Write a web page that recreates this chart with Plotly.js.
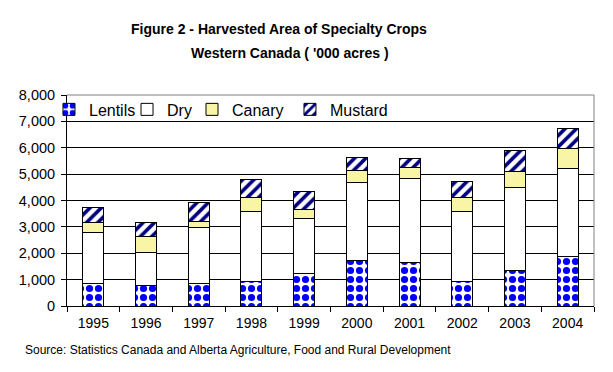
<!DOCTYPE html>
<html>
<head>
<meta charset="utf-8">
<script src="https://cdn.plot.ly/plotly-3.0.1.min.js"></script>
<style>html,body{margin:0;padding:0;background:#fff;}#chart{width:613px;height:372px;}</style>
</head>
<body>
<div id="chart"></div>
<script>
const years = ['1995','1996','1997','1998','1999','2000','2001','2002','2003','2004'];
const lentils = [850, 760, 850, 930, 1250, 1710, 1660, 940, 1330, 1860];
const dry     = [1930, 1270, 2120, 2670, 2050, 2990, 3170, 2630, 3160, 3340];
const canary  = [380, 600, 230, 500, 360, 420, 420, 550, 610, 780];
const mustard = [580, 540, 730, 710, 670, 520, 350, 590, 790, 760];
const titleLine1 = 'Figure 2 - Harvested Area of Specialty Crops';
const titleLine2 = "Western Canada ( '000 acres )";
const sourceText = 'Source: Statistics Canada and Alberta Agriculture, Food and Rural Development';

const FONT = 'Liberation Sans, Arial, sans-serif';
const outline = {color: '#000000', width: 1};

const traces = [
  {type: 'bar', name: 'Lentils', x: years, y: lentils, legend: 'legend',
   marker: {color: '#ffffff', line: outline,
     pattern: {shape: '.', fgcolor: '#0000ff', bgcolor: '#ffffff', size: 9, solidity: 0.5}}},
  {type: 'bar', name: 'Dry', x: years, y: dry, legend: 'legend2',
   marker: {color: '#ffffff', line: outline}},
  {type: 'bar', name: 'Canary', x: years, y: canary, legend: 'legend3',
   marker: {color: '#f9f5a6', line: outline}},
  {type: 'bar', name: 'Mustard', x: years, y: mustard, legend: 'legend4',
   marker: {color: '#ffffff', line: outline,
     pattern: {shape: '/', fgcolor: '#000080', bgcolor: '#ffffff', size: 8, solidity: 0.45}}}
];

function leg(x) {
  return {x: x, xanchor: 'left', y: 1.012, yanchor: 'top', orientation: 'h',
    bgcolor: 'rgba(0,0,0,0)', borderwidth: 0, font: {family: FONT, size: 16, color: '#000'}};
}

const layout = {
  width: 613, height: 372,
  margin: {l: 67, r: 19, t: 95, b: 66},
  paper_bgcolor: '#ffffff', plot_bgcolor: '#ffffff',
  barmode: 'stack', bargap: 0.6,
  font: {family: FONT, size: 14, color: '#000'},
  showlegend: true,
  legend: leg(-0.0342),
  legend2: leg(0.1139),
  legend3: leg(0.2372),
  legend4: leg(0.4231),
  xaxis: {type: 'category', showline: true, linecolor: '#000', linewidth: 1,
    ticks: 'outside', tickson: 'boundaries', ticklen: 5, tickcolor: '#000',
    ticklabelstandoff: 4, showgrid: false, zeroline: false,
    tickfont: {family: FONT, size: 14, color: '#000'}},
  yaxis: {range: [0, 8000], dtick: 1000, tickformat: ',d', showline: true,
    linecolor: '#000', linewidth: 1, ticks: 'outside', ticklen: 5, tickcolor: '#000',
    showgrid: true, gridcolor: '#000', gridwidth: 1, zeroline: false,
    ticklabelstandoff: 3,
    tickfont: {family: FONT, size: 14.5, color: '#000'}},
  shapes: [
    {type: 'rect', xref: 'paper', yref: 'paper', x0: 0.003, x1: 0.658, y0: 0.85, y1: 0.996,
     fillcolor: '#ffffff', line: {width: 0}, layer: 'between'},
    {type: 'line', xref: 'paper', yref: 'paper', x0: 0, x1: 1, y0: 1, y1: 1,
     line: {color: '#808080', width: 1}, layer: 'above'},
    {type: 'line', xref: 'paper', yref: 'paper', x0: 1, x1: 1, y0: 0, y1: 1,
     line: {color: '#808080', width: 1}, layer: 'above'}
  ],
  annotations: [
    {text: '<b>' + titleLine1 + '</b>', xref: 'paper', yref: 'paper', x: 0.4023, y: 1.3128,
     xanchor: 'center', yanchor: 'middle', showarrow: false, font: {family: FONT, size: 14, color: '#000'}},
    {text: '<b>' + titleLine2 + '</b>', xref: 'paper', yref: 'paper', x: 0.4231, y: 1.199,
     xanchor: 'center', yanchor: 'middle', showarrow: false, font: {family: FONT, size: 14, color: '#000'}},
    {text: sourceText, xref: 'paper', yref: 'paper', x: -0.0835, y: -0.2085,
     xanchor: 'left', yanchor: 'middle', showarrow: false, font: {family: FONT, size: 12, color: '#000'}}
  ]
};

Plotly.newPlot('chart', traces, layout, {displayModeBar: false, staticPlot: true});
</script>
</body>
</html>
